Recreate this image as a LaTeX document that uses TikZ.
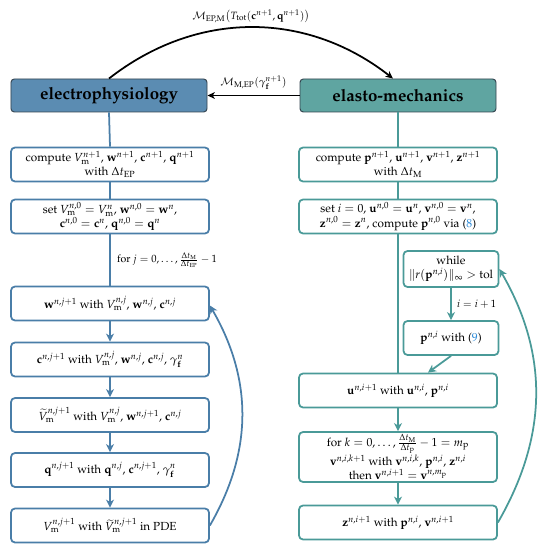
\documentclass[tikz,border=0pt]{standalone}
\usepackage[T1]{fontenc}
\usepackage{mathpazo}
\usepackage{amsmath,amssymb}
\usepackage{xcolor}
\definecolor{epc}{HTML}{4A7EA8}
\definecolor{epfill}{HTML}{5B8CB2}
\definecolor{mc}{HTML}{4A9A98}
\definecolor{mfill}{HTML}{5FA5A1}
\definecolor{hd}{HTML}{34434E}
\definecolor{eqref}{HTML}{2E8BD8}
\usetikzlibrary{arrows.meta,positioning,calc}
\tikzset{
  >={Stealth[length=2.4mm,width=2.4mm,inset=0.7mm]},
  epbox/.style={draw=epc,line width=1.5pt,rounded corners=1.2mm,fill=white,minimum width=59.4mm,minimum height=10.2mm,inner sep=1pt,align=center},
  mbox/.style={epbox,draw=mc},
  sbox/.style={mbox,minimum width=28.5mm},
  head/.style={draw=hd,line width=0.8pt,rounded corners=1mm,minimum width=58.8mm,minimum height=9.9mm,font=\Large\bfseries},
  epline/.style={draw=epc,line width=1.5pt},
  mline/.style={draw=mc,line width=1.5pt},
  eparr/.style={epline,->},
  marr/.style={mline,->},
  karr/.style={->,line width=1.5pt,>={Stealth[length=2.2mm,width=2mm,inset=0.6mm]}},
  lab/.style={font=\small},
}
\newcommand{\bv}[1]{\mathbf{#1}}
\newcommand{\Vm}{V_{\mathrm{m}}}

\begin{document}
\begin{tikzpicture}[x=0.3mm,y=-0.3mm]
\useasboundingbox (0,0) rectangle (543,550);
% headers
\node[head,fill=epfill] (ep) at (109,95.5) {electrophysiology};
\node[head,fill=mfill] (em) at (398,95.5) {elasto-mechanics};
\draw[karr] (ep.north) to[out=38,in=142] node[above=2pt,inner sep=1pt,lab] {$\mathcal{M}_{\mathrm{EP,M}}\big(T_{\mathrm{tot}}(\bv{c}^{n+1},\bv{q}^{n+1})\big)$} ($(em.north)+(-5,0)$);
\draw[karr] (em.west) -- node[above=1pt,lab] {$\mathcal{M}_{\mathrm{M,EP}}(\gamma_{\bv{f}}^{n+1})$} (ep.east);

% electrophysiology column
\node[epbox] (cEP) at (110,164.5) {compute $\Vm^{n+1}$, $\bv{w}^{n+1}$, $\bv{c}^{n+1}$, $\bv{q}^{n+1}$\\ with $\Delta t_{\mathrm{EP}}$};
\node[epbox] (sEP) at (110,216.5) {set $\Vm^{n,0} = \Vm^{n}$, $\bv{w}^{n,0} = \bv{w}^{n}$,\\ $\bv{c}^{n,0} = \bv{c}^{n}$, $\bv{q}^{n,0} = \bv{q}^{n}$};
\node[epbox] (wEP) at (110,303.5) {$\bv{w}^{n,j+1}$ with $\Vm^{n,j}$, $\bv{w}^{n,j}$, $\bv{c}^{n,j}$};
\node[epbox] (cc) at (110,359.5) {$\bv{c}^{n,j+1}$ with $\Vm^{n,j}$, $\bv{w}^{n,j}$, $\bv{c}^{n,j}$, $\gamma_{\bv{f}}^{n}$};
\node[epbox] (vt) at (110,415) {$\widetilde{V}_{\mathrm{m}}^{n,j+1}$ with $\Vm^{n,j}$, $\bv{w}^{n,j+1}$, $\bv{c}^{n,j}$};
\node[epbox] (qq) at (110,470) {$\bv{q}^{n,j+1}$ with $\bv{q}^{n,j}$, $\bv{c}^{n,j+1}$, $\gamma_{\bv{f}}^{n}$};
\node[epbox] (vv) at (110,525.5) {$\Vm^{n,j+1}$ with $\widetilde{V}_{\mathrm{m}}^{n,j+1}$ in PDE};

\draw[epline] (ep.south) -- (cEP.north);
\draw[epline] (cEP.south) -- (sEP.north);
\draw[epline] (sEP.south) -- node[right=2pt,lab] {for $j=0,\dots,\frac{\Delta t_{\mathrm{M}}}{\Delta t_{\mathrm{EP}}}-1$} (wEP.north);
\draw[eparr] (wEP) -- (cc);
\draw[eparr] (cc) -- (vt);
\draw[eparr] (vt) -- (qq);
\draw[eparr] (qq) -- (vv);
\draw[eparr] (vv.east) to[out=60,in=-60] ($(wEP.east)+(0,2)$);

% mechanics column
\node[mbox] (cM) at (398,164.5) {compute $\bv{p}^{n+1}$, $\bv{u}^{n+1}$, $\bv{v}^{n+1}$, $\bv{z}^{n+1}$\\ with $\Delta t_{\mathrm{M}}$};
\node[mbox] (sM) at (398,216.5) {set $i=0$, $\bv{u}^{n,0} = \bv{u}^{n}$, $\bv{v}^{n,0} = \bv{v}^{n}$,\\ $\bv{z}^{n,0} = \bv{z}^{n}$, compute $\bv{p}^{n,0}$ via ({\color{eqref}8})};
\node[sbox,minimum height=10.8mm] (wh) at (451,269) {while\\ $\|r(\bv{p}^{n,i})\|_\infty > \mathrm{tol}$};
\node[sbox] (pp) at (451,338) {$\bv{p}^{n,i}$ with ({\color{eqref}9})};
\node[mbox] (uu) at (398,390.5) {$\bv{u}^{n,i+1}$ with $\bv{u}^{n,i}$, $\bv{p}^{n,i}$};
\node[mbox,minimum height=15mm] (fk) at (398,457) {for $k=0,\dots,\frac{\Delta t_{\mathrm{M}}}{\Delta t_{\mathrm{p}}}-1 = m_{\mathrm{p}}$\\ $\bv{v}^{n,i,k+1}$ with $\bv{v}^{n,i,k}$, $\bv{p}^{n,i}$, $\bv{z}^{n,i}$\\ then $\bv{v}^{n,i+1} = \bv{v}^{n,m_{\mathrm{p}}}$};
\node[mbox] (zz) at (398,522.5) {$\bv{z}^{n,i+1}$ with $\bv{p}^{n,i}$, $\bv{v}^{n,i+1}$};

\draw[mline] (em.south) -- (cM.north);
\draw[mline] (cM.south) -- (sM.north);
\draw[mline] (sM.south) -- (uu.north);
\draw[marr] (wh) -- node[right=1pt,lab] {$i=i+1$} (pp);
\draw[marr] (pp.south) -- ($(uu.north)+(30,0)$);
\draw[marr] (uu) -- (fk);
\draw[marr] (fk) -- (zz);
\draw[marr] (zz.east) to[out=60,in=-60] (wh.east);
\end{tikzpicture}
\end{document}
